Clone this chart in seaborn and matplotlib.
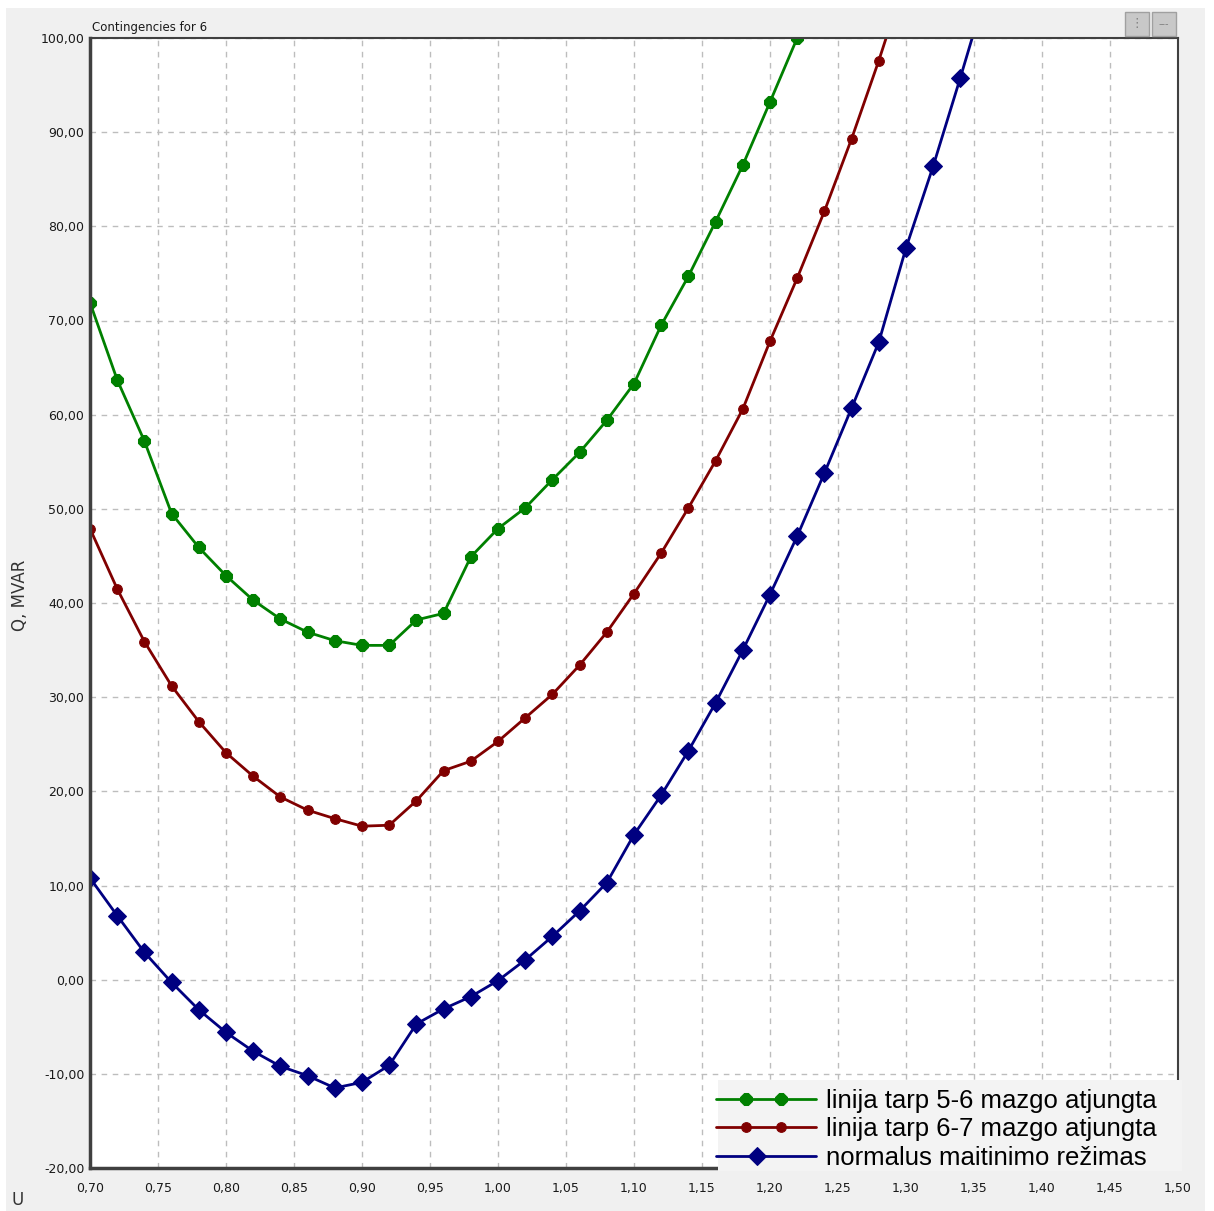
import numpy as np
import pandas as pd
import matplotlib
matplotlib.use("Agg")
import matplotlib.pyplot as plt
import seaborn as sns
from matplotlib.legend_handler import HandlerLine2D
from matplotlib.lines import Line2D
from matplotlib.ticker import FuncFormatter, MultipleLocator

# voltage steps (U) for each series
u_green = [0.70, 0.72, 0.74, 0.76, 0.78, 0.80, 0.82, 0.84, 0.86, 0.88, 0.90, 0.92, 0.94,
           0.96, 0.98, 1.00, 1.02, 1.04, 1.06, 1.08, 1.10, 1.12, 1.14, 1.16, 1.18, 1.20, 1.22]
q_green = [71.9, 63.7, 57.2, 49.5, 45.9, 42.9, 40.3, 38.3, 36.9, 36.0, 35.5, 35.5, 38.2,
           38.9, 44.9, 47.9, 50.1, 53.1, 56.0, 59.4, 63.3, 69.5, 74.7, 80.5, 86.5, 93.2, 100.0]

u_red = [0.70, 0.72, 0.74, 0.76, 0.78, 0.80, 0.82, 0.84, 0.86, 0.88, 0.90, 0.92, 0.94, 0.96,
         0.98, 1.00, 1.02, 1.04, 1.06, 1.08, 1.10, 1.12, 1.14, 1.16, 1.18, 1.20, 1.22, 1.24,
         1.26, 1.28, 1.30]
q_red = [47.9, 41.5, 35.9, 31.2, 27.4, 24.1, 21.6, 19.4, 18.0, 17.1, 16.3, 16.4, 19.0, 22.2,
         23.2, 25.3, 27.8, 30.3, 33.4, 36.9, 41.0, 45.3, 50.1, 55.1, 60.6, 67.8, 74.5, 81.6,
         89.3, 97.6, 106.5]

u_blue = [0.70, 0.72, 0.74, 0.76, 0.78, 0.80, 0.82, 0.84, 0.86, 0.88, 0.90, 0.92, 0.94, 0.96,
          0.98, 1.00, 1.02, 1.04, 1.06, 1.08, 1.10, 1.12, 1.14, 1.16, 1.18, 1.20, 1.22, 1.24,
          1.26, 1.28, 1.30, 1.32, 1.34, 1.36]
q_blue = [10.8, 6.8, 2.9, -0.3, -3.2, -5.6, -7.6, -9.2, -10.2, -11.5, -10.9, -9.1, -4.7, -3.1,
          -1.8, -0.1, 2.1, 4.6, 7.3, 10.3, 15.4, 19.6, 24.3, 29.4, 35.0, 40.9, 47.1, 53.8,
          60.7, 67.7, 77.7, 86.4, 95.8, 105.5]

labels = ["linija tarp 5-6 mazgo atjungta",
          "linija tarp 6-7 mazgo atjungta",
          "normalus maitinimo režimas"]


# legend handle with markers placed inside the line, not at its ends
class MarkerSpot(HandlerLine2D):
    def __init__(self, spots, **kw):
        super().__init__(**kw)
        self.spots = spots

    def create_artists(self, legend, orig_handle, xdescent, ydescent, width, height,
                       fontsize, trans):
        x0 = -xdescent
        xs = [x0] + [x0 + s * width for s in self.spots] + [x0 + width]
        y = (height - ydescent) / 2
        line = Line2D(xs, [y] * len(xs))
        self.update_prop(line, orig_handle, legend)
        line.set_markevery(list(range(1, len(xs) - 1)))
        line.set_transform(trans)
        return [line]


sns.set_style("white")
plt.rcParams['font.family'] = ['DejaVu Sans']

fig = plt.figure(figsize=(12.14, 12.11), dpi=100, facecolor="white")
fig.patches.append(plt.Rectangle((6/1214, 0), 1199/1214, 1 - 8/1211, transform=fig.transFigure,
                                 facecolor="#f0f0f0", edgecolor="none", zorder=-10))
ax = fig.add_axes([90/1214, 1 - 1168/1211, (1178-90)/1214, (1168-38)/1211])
ax.set_facecolor("white")

sns.lineplot(x=u_green, y=q_green, ax=ax, color="#008000", marker="8", markersize=9,
             markeredgecolor="#008000", linewidth=2)
sns.lineplot(x=u_red, y=q_red, ax=ax, color="#800000", marker="o", markersize=7,
             markeredgecolor="#800000", linewidth=2)
sns.lineplot(x=u_blue, y=q_blue, ax=ax, color="#000080", marker="D", markersize=9,
             markeredgecolor="#000080", linewidth=2)

ax.set_xlim(0.70, 1.50)
ax.set_ylim(-20, 100)
ax.xaxis.set_major_locator(MultipleLocator(0.05))
ax.yaxis.set_major_locator(MultipleLocator(10))
ax.xaxis.set_major_formatter(FuncFormatter(lambda v, p: f"{v:.2f}".replace(".", ",")))
ax.yaxis.set_major_formatter(FuncFormatter(lambda v, p: f"{v:.2f}".replace(".", ",")))
ax.tick_params(axis="both", length=0, labelsize=9, colors="#1a1a1a")
ax.tick_params(axis="x", pad=10)
ax.tick_params(axis="y", pad=4)
ax.grid(True, linestyle=(0, (4, 4)), color="#bdbdbd", linewidth=1)
for side in ["left", "bottom"]:
    ax.spines[side].set_linewidth(2.5)
    ax.spines[side].set_color("#404040")
for side in ["top", "right"]:
    ax.spines[side].set_linewidth(1.5)
    ax.spines[side].set_color("#404040")
ax.set_xlabel("")
ax.set_ylabel("")

fig.text(92/1214, 1 - 27/1211, "Contingencies for 6", fontsize=8.5, va="center", ha="left",
         color="#1a1a1a")
fig.text(20/1214, 1 - 595/1211, "Q, MVAR", fontsize=12, rotation=90, va="center", ha="center",
         color="#333333")
fig.text(18/1214, 1 - 1200/1211, "U", fontsize=12, va="center", ha="center", color="#333333")

# small toolbar buttons top right
for x0 in [1125, 1152]:
    fig.patches.append(plt.Rectangle((x0/1214, 1 - 36/1211), 24/1214, 24/1211,
                                     transform=fig.transFigure, facecolor="#c8c8c8",
                                     edgecolor="#a0a0a0", linewidth=1))
fig.text(1137/1214, 1 - 24/1211, "⋮", fontsize=9, ha="center", va="center", color="#808080")
fig.text(1164/1214, 1 - 24/1211, "---", fontsize=7, ha="center", va="center", color="#808080")

# legend background panel (wider than the legend content, as in the original)
ax.add_patch(plt.Rectangle((718/1214, 1 - 1171/1211), 464/1214, 91/1211,
                           transform=fig.transFigure, facecolor="#f3f3f3", edgecolor="none",
                           clip_on=False, zorder=9))

lines = ax.get_lines()
leg = ax.legend(lines, labels, loc="lower right", bbox_to_anchor=(1162/1214, 1 - 1175/1211),
                bbox_transform=fig.transFigure, frameon=False,
                prop={"family": "Liberation Sans", "size": 18.5}, handlelength=3.9,
                handletextpad=0.4, labelspacing=0.18, borderpad=0.2, borderaxespad=0,
                labelcolor="black",
                handler_map={lines[0]: MarkerSpot([0.3, 0.65]),
                             lines[1]: MarkerSpot([0.3, 0.65]),
                             lines[2]: MarkerSpot([0.41])})
leg.set_zorder(10)

plt.savefig("out.png", dpi=100, facecolor=fig.get_facecolor())
